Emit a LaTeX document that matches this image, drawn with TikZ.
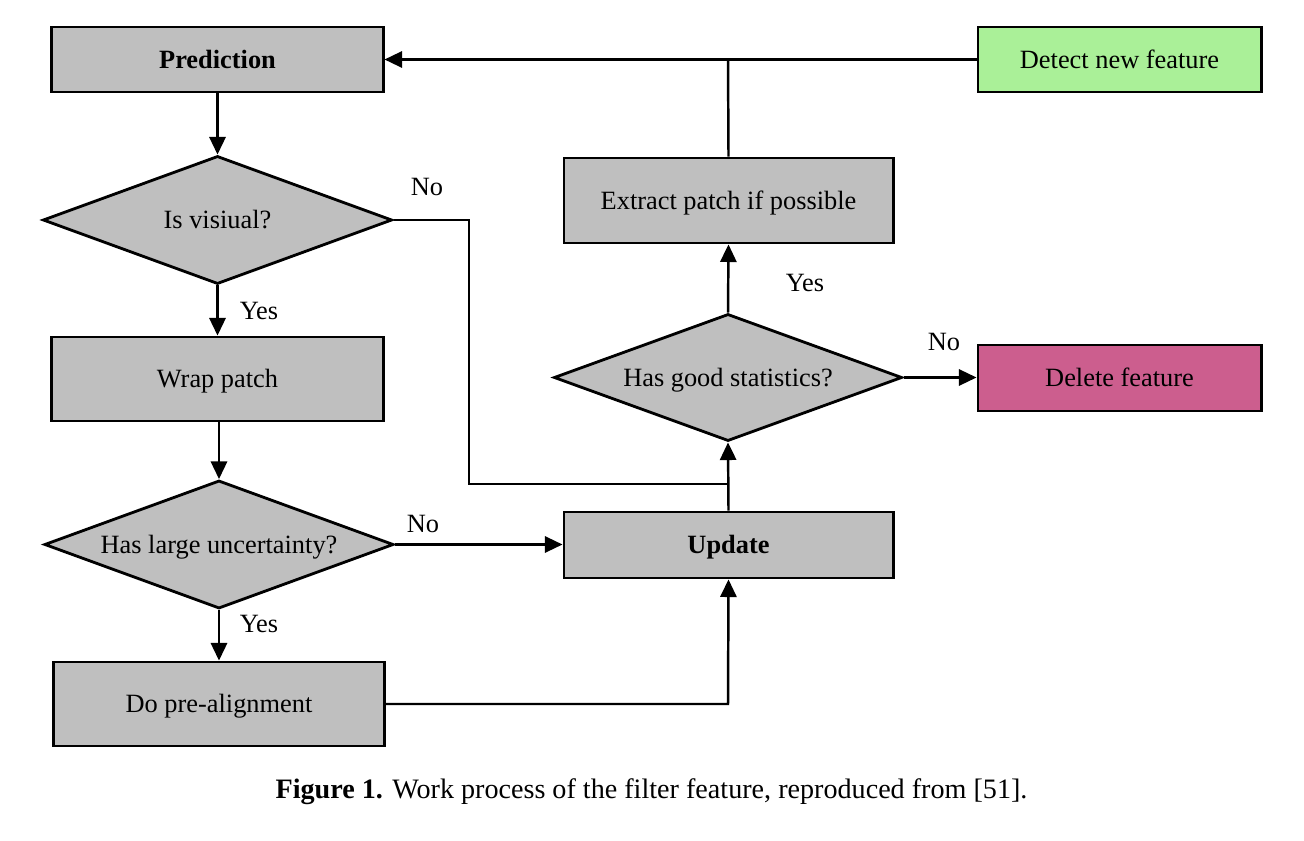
\documentclass[tikz,border=0pt]{standalone}
\usepackage{fontspec}
\setmainfont{Liberation Serif}
\usetikzlibrary{shapes.geometric,arrows.meta}
\definecolor{boxgray}{RGB}{191,191,191}
\definecolor{boxgreen}{RGB}{170,240,152}
\definecolor{boxpink}{RGB}{204,94,142}
\begin{document}
\begin{tikzpicture}[x=0.01cm,y=-0.01cm,
  font=\fontsize{7.5}{9}\selectfont,
  procbox/.style={draw=black,line width=0.8pt,fill=boxgray,inner sep=0pt,
    text height=5pt,text depth=0pt,
    minimum width=3.31cm,minimum height=0.65cm},
  decbox/.style={diamond,draw=black,line width=0.8pt,fill=boxgray,inner sep=0pt,
    text height=5pt,text depth=0pt,
    aspect=2.7,minimum width=3.49cm,minimum height=1.28cm},
  conn/.style={line width=0.7pt,draw=black},
  arr/.style={conn,-{Triangle[length=5pt,width=4.6pt]}},
  lbl/.style={inner sep=0pt}]
\useasboundingbox (0,0) rectangle (1304,840);
% nodes
\node[procbox] (pred) at (217.5,59.5) {\textbf{Prediction}};
\node[procbox,fill=boxgreen,minimum width=2.83cm] (detect) at (1119.5,59.5) {Detect new feature};
\node[decbox] (vis) at (217.5,220) {Is visiual?};
\node[procbox,minimum height=0.84cm] (wrap) at (217.5,379) {Wrap patch};
\node[decbox] (unc) at (219,544.5) {Has large uncertainty?};
\node[procbox,minimum width=3.30cm,minimum height=0.84cm] (pre) at (219,704) {Do pre-alignment};
\node[procbox,minimum width=3.29cm,minimum height=0.66cm] (upd) at (728.5,545) {\textbf{Update}};
\node[decbox,minimum width=3.48cm,minimum height=1.27cm] (stat) at (728,377.5) {Has good statistics?};
\node[procbox,minimum width=3.29cm,minimum height=0.85cm] (extr) at (728.5,200.5) {Extract patch if possible};
\node[procbox,fill=boxpink,minimum width=2.83cm,minimum height=0.66cm] (del) at (1119.5,378) {Delete feature};
% helper coordinates
\coordinate (visR) at (469,220);
\coordinate (visD) at (469,484);
\coordinate (join) at (728,484);
\coordinate (preC) at (728,704);
\coordinate (topJ) at (728,60);
% connectors
\draw[arr] (pred.south) -- (vis.north);
\draw[arr] (vis.south) -- (wrap.north);
\draw[arr] (wrap.south -| unc.north) -- (unc.north);
\draw[arr] (unc.south) -- (pre.north);
\draw[arr] (unc.east) -- (unc.east -| upd.west);
\draw[arr] (pre.east) -- (preC) -- (upd.south);
\draw[conn] (vis.east) -- (visR) -- (visD) -- (join);
\draw[arr] (upd.north) -- (stat.south);
\draw[arr] (stat.north) -- (extr.south);
\draw[arr] (stat.east) -- (stat.east -| del.west);
\draw[conn] (extr.north) -- (topJ);
\draw[arr] (detect.west) -- (pred.east);
% labels
\node[lbl] (l1) at (259,311) {Yes};
\node[lbl] (l2) at (427,187) {No};
\node[lbl] (l3) at (259,624) {Yes};
\node[lbl] (l4) at (423,524) {No};
\node[lbl] (l5) at (805,283) {Yes};
\node[lbl] (l6) at (944,342) {No};
% caption
\node[lbl,font=\fontsize{8}{9.6}\selectfont] (cap) at (651.5,792) {\textbf{Figure 1.} Work process of the filter feature, reproduced from [51].};
\end{tikzpicture}
\end{document}
